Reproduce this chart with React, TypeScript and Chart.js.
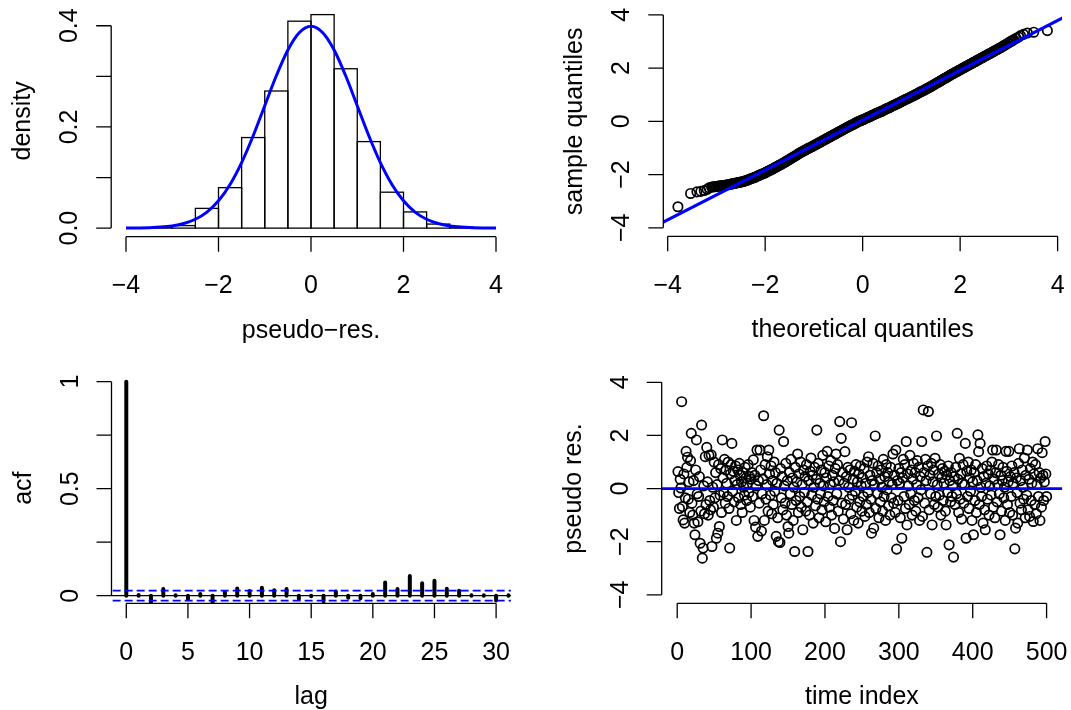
import React, { useEffect, useRef } from "react";
import { Chart, registerables } from "chart.js";

Chart.register(...registerables);

// ---------- Panel 1: histogram of pseudo-residuals ----------
const histBinCenters = [-3.25, -2.75, -2.25, -1.75, -1.25, -0.75, -0.25, 0.25, 0.75, 1.25, 1.75, 2.25, 2.75, 3.25];
const histDensity = [0.001, 0.005, 0.039, 0.080, 0.179, 0.271, 0.409, 0.422, 0.315, 0.171, 0.071, 0.032, 0.008, 0.002];
const normCurveX = [-4, -3.75, -3.5, -3.25, -3, -2.75, -2.5, -2.25, -2, -1.75, -1.5, -1.25, -1, -0.75, -0.5, -0.25, 0,
  0.25, 0.5, 0.75, 1, 1.25, 1.5, 1.75, 2, 2.25, 2.5, 2.75, 3, 3.25, 3.5, 3.75, 4];
const normCurveY = [0.0001, 0.0004, 0.0009, 0.002, 0.0044, 0.0091, 0.0175, 0.0317, 0.054, 0.0863, 0.1295, 0.1826, 0.242, 0.3011, 0.3521, 0.3867, 0.3989,
  0.3867, 0.3521, 0.3011, 0.242, 0.1826, 0.1295, 0.0863, 0.054, 0.0317, 0.0175, 0.0091, 0.0044, 0.002, 0.0009, 0.0004, 0.0001];
const histXTicks = [-4, -2, 0, 2, 4];
const histXLabels = ["\u22124", "\u22122", "0", "2", "4"];
const histYTicks = [0, 0.1, 0.2, 0.3, 0.4];
const histYLabels = ["0.0", "", "0.2", "", "0.4"];

// ---------- Panel 2: normal QQ plot ----------
const qqTheoretical = [-3.79, -3.53, -3.4, -3.32, -3.25, -3.19, -3.15,
  -3.1, -3.05, -3.0, -2.95, -2.9, -2.85, -2.8, -2.75, -2.7, -2.65, -2.6, -2.55, -2.5, -2.45, -2.4, -2.35, -2.3, -2.25, -2.2, -2.15, -2.1,
  -2.05, -2.0, -1.95, -1.9, -1.85, -1.8, -1.75, -1.7, -1.65, -1.6, -1.55, -1.5, -1.45, -1.4, -1.35, -1.3, -1.25, -1.2, -1.15, -1.1, -1.05,
  -1.0, -0.95, -0.9, -0.85, -0.8, -0.75, -0.7, -0.65, -0.6, -0.55, -0.5, -0.45, -0.4, -0.35, -0.3, -0.25, -0.2, -0.15, -0.1, -0.05,
  0.0, 0.05, 0.1, 0.15, 0.2, 0.25, 0.3, 0.35, 0.4, 0.45, 0.5, 0.55, 0.6, 0.65, 0.7, 0.75, 0.8, 0.85, 0.9, 0.95, 1.0,
  1.05, 1.1, 1.15, 1.2, 1.25, 1.3, 1.35, 1.4, 1.45, 1.5, 1.55, 1.6, 1.65, 1.7, 1.75, 1.8, 1.85, 1.9, 1.95, 2.0, 2.05,
  2.1, 2.15, 2.2, 2.25, 2.3, 2.35, 2.4, 2.45, 2.5, 2.55, 2.6, 2.65, 2.7, 2.75, 2.8, 2.85, 2.9, 2.95, 3.0, 3.05, 3.1,
  3.15, 3.2, 3.24, 3.3, 3.38, 3.51, 3.79];
const qqSample = [-3.21, -2.71, -2.65, -2.63, -2.6, -2.55, -2.5,
  -2.47, -2.46, -2.45, -2.43, -2.42, -2.41, -2.39, -2.38, -2.36, -2.34, -2.32, -2.3, -2.28, -2.26, -2.23, -2.2, -2.16, -2.13, -2.09, -2.05, -2.01,
  -1.97, -1.93, -1.88, -1.84, -1.79, -1.74, -1.69, -1.64, -1.59, -1.54, -1.48, -1.43, -1.37, -1.32, -1.26, -1.2, -1.15, -1.1, -1.05, -1.0, -0.96,
  -0.91, -0.86, -0.81, -0.76, -0.71, -0.66, -0.61, -0.56, -0.51, -0.46, -0.41, -0.36, -0.31, -0.26, -0.21, -0.16, -0.12, -0.07, -0.02, 0.02,
  0.06, 0.1, 0.14, 0.18, 0.23, 0.27, 0.31, 0.35, 0.39, 0.44, 0.48, 0.52, 0.57, 0.61, 0.66, 0.7, 0.75, 0.79, 0.84, 0.88, 0.93,
  0.97, 1.02, 1.07, 1.12, 1.16, 1.21, 1.26, 1.31, 1.36, 1.42, 1.47, 1.52, 1.58, 1.63, 1.68, 1.74, 1.79, 1.84, 1.89, 1.94, 1.99,
  2.04, 2.09, 2.14, 2.19, 2.24, 2.29, 2.34, 2.39, 2.44, 2.49, 2.54, 2.59, 2.64, 2.69, 2.74, 2.79, 2.85, 2.9, 2.96, 3.01, 3.07,
  3.12, 3.17, 3.22, 3.27, 3.32, 3.35, 3.41];
// further quantile pairs read between the ones above (the band is very dense)
const qqTheoreticalMid = [-3.075, -3.025, -2.975, -2.925, -2.875, -2.825, -2.775, -2.725, -2.675, -2.625, -2.575, -2.525, -2.475, -2.425,
  -2.375, -2.325, -2.275, -2.225, -2.175, -2.125, -2.075, -2.025, -1.975, -1.925, -1.875, -1.825, -1.775, -1.725, -1.675, -1.625,
  -1.575, -1.525, -1.475, -1.425, -1.375, -1.325, -1.275, -1.225, -1.175, -1.125, -1.075, -1.025, -0.975, -0.925, -0.875, -0.825,
  -0.775, -0.725, -0.675, -0.625, -0.575, -0.525, -0.475, -0.425, -0.375, -0.325, -0.275, -0.225, -0.175, -0.125, -0.075, -0.025,
  0.025, 0.075, 0.125, 0.175, 0.225, 0.275, 0.325, 0.375, 0.425, 0.475, 0.525, 0.575, 0.625, 0.675, 0.725, 0.775, 0.825, 0.875,
  0.925, 0.975, 1.025, 1.075, 1.125, 1.175, 1.225, 1.275, 1.325, 1.375, 1.425, 1.475, 1.525, 1.575, 1.625, 1.675, 1.725, 1.775,
  1.825, 1.875, 1.925, 1.975, 2.025, 2.075, 2.125, 2.175, 2.225, 2.275, 2.325, 2.375, 2.425, 2.475, 2.525, 2.575, 2.625, 2.675,
  2.725, 2.775, 2.825, 2.875, 2.925, 2.975, 3.025, 3.075];
const qqSampleMid = [-2.465, -2.455, -2.44, -2.425, -2.415, -2.4, -2.385, -2.37, -2.35, -2.33, -2.31, -2.29, -2.27, -2.245,
  -2.215, -2.18, -2.145, -2.11, -2.07, -2.03, -1.99, -1.95, -1.905, -1.86, -1.815, -1.765, -1.715, -1.665, -1.615, -1.565,
  -1.51, -1.455, -1.4, -1.345, -1.29, -1.23, -1.175, -1.125, -1.075, -1.025, -0.98, -0.935, -0.885, -0.835, -0.785, -0.735,
  -0.685, -0.635, -0.585, -0.535, -0.485, -0.435, -0.385, -0.335, -0.285, -0.235, -0.185, -0.14, -0.095, -0.045, 0.0, 0.04,
  0.08, 0.12, 0.16, 0.205, 0.25, 0.29, 0.33, 0.37, 0.415, 0.46, 0.5, 0.545, 0.59, 0.635, 0.68, 0.725, 0.77, 0.815,
  0.86, 0.905, 0.95, 0.995, 1.045, 1.095, 1.14, 1.185, 1.235, 1.285, 1.335, 1.39, 1.445, 1.495, 1.55, 1.605, 1.655, 1.71,
  1.765, 1.815, 1.865, 1.915, 1.965, 2.015, 2.065, 2.115, 2.165, 2.215, 2.265, 2.315, 2.365, 2.415, 2.465, 2.515, 2.565, 2.615,
  2.665, 2.715, 2.765, 2.82, 2.875, 2.93, 2.985, 3.04];
const qqLineX = [-4.5, 4.5];
const qqLineY = [-4.17, 4.26];
const qqTicks = [-4, -2, 0, 2, 4];
const qqLabels = ["\u22124", "\u22122", "0", "2", "4"];

// ---------- Panel 3: ACF ----------
const acfLags = [0, 1, 2, 3, 4, 5, 6, 7, 8, 9, 10, 11, 12, 13, 14, 15, 16, 17, 18, 19, 20, 21, 22, 23, 24, 25, 26, 27, 28, 29, 30, 31];
const acfValues = [1, 0.003, -0.036, 0.031, 0.002, -0.017, 0.008, -0.031, 0.017, 0.034, 0.022, 0.037, 0.025, 0.031, -0.014, -0.003,
  -0.026, 0.02, -0.009, -0.012, 0.008, 0.062, 0.031, 0.092, 0.058, 0.07, 0.033, 0.023, 0.002, 0.002, -0.023, 0.002];
const acfConfBound = 0.0234;
const acfXTicks = [0, 5, 10, 15, 20, 25, 30];
const acfXLabels = ["0", "5", "10", "15", "20", "25", "30"];
const acfYTicks = [0, 0.25, 0.5, 0.75, 1];
const acfYLabels = ["0", "", "0.5", "", "1"];

// ---------- Panel 4: pseudo residuals over time ----------
const timeResiduals = [
  0.64, -0.15, -0.75, 0.35, 0.02, 3.27, -0.68, -1.18, 0.55, -1.3, -0.35, 1.4, 0.8, 1.18, -0.4, 0.25, -0.9, 1.05, 2.08, -0.55, -1.0, 0.3, -1.3, -1.74, 0.7,
  1.83, -0.2, -1.25, -0.3, 0.45, -2.06, -0.85, 2.39, -2.62, -2.24, 0.1, -0.95, 1.2, -0.6, 1.55, 0.25, -1.0, 1.25, -0.45, -0.8, 1.27, -2.18, 0.05, -0.7, 1.0,
  -0.35, 0.6, -1.87, 0.15, -1.68, 0.9, -1.43, -0.25, 0.75, -0.9, 1.83, 0.4, -0.15, 1.1, -0.55, 0.7, 0.2, -0.3, 1.0, -0.75, -2.24, 0.55, 0.9, 1.7, -0.1,
  0.65, -0.5, 0.3, 0.85, -1.2, 0.15, 0.7, -0.35, 0.95, 0.5, -0.6, 0.25, -0.9, 0.6, 0.05, -0.25, 0.8, 0.4, -0.45, 0.2, 0.9, -0.15, 0.45, -0.7, 0.35,
  0.6, -0.3, 1.08, -1.2, 0.5, -1.45, 0.1, 1.45, -1.8, 0.3, -0.55, 1.45, 0.7, -1.6, -0.2, 0.35, 2.74, -1.2, 0.9, -0.4, 0.15, 1.2, -0.85, 1.45, 0.55,
  -0.25, 0.85, -0.95, 0.3, -0.6, 1.0, -0.1, 0.6, -1.8, 0.2, -1.1, -2.0, 2.2, -2.03, 0.75, -0.35, 0.45, -0.8, 1.77, 0.1, -0.55, 0.95, -1.0, 0.3, -1.43,
  -1.68, 0.6, -0.2, 1.1, -0.6, 0.4, -1.2, 0.05, -2.37, 0.8, -0.45, 0.25, 1.3, -0.9, 0.55, -0.3, 1.0, -0.7, 0.15, -1.55, 0.7, -0.15, 0.45, -0.85, 0.9,
  -0.5, -2.37, 0.3, -1.0, 0.65, 1.15, -0.25, 0.5, -1.3, 0.05, 0.8, -0.65, 0.35, 2.2, -0.4, 0.95, -1.1, 0.2, -0.2, 0.7, -0.8, 1.25, 0.1, -0.5, 0.6,
  -1.25, 0.4, 1.4, -0.3, 0.85, -0.7, 0.15, 1.05, -1.0, 0.5, -0.45, 0.25, -1.5, 0.75, 1.3, -0.2, 0.9, -0.85, 0.3, 2.52, -2.0, 1.89, -0.55, 0.6, -1.15,
  0.2, 1.39, -0.6, 0.45, -1.55, 0.8, 0.05, -0.4, 0.7, -0.95, 2.48, -0.25, 0.35, -1.2, 0.65, -0.1, 0.9, -0.7, 0.25, -1.3, 0.55, -0.5, 0.85, 0.1, -0.85,
  0.4, -0.3, 0.75, -1.05, 0.2, -0.6, 1.0, -0.15, 1.2, -0.9, 0.5, -0.4, -1.68, 0.3, 0.95, -1.49, 0.15, 1.98, -0.75, 0.6, -0.2, 0.85, -1.1, 0.35, -0.5,
  0.7, 0.05, -0.85, 1.1, -0.3, 0.45, -1.2, 0.9, -0.05, 0.6, -0.65, 0.25, -1.0, 0.8, -0.35, 0.15, 1.3, -0.55, 0.5, -0.9, 1.45, -2.28, 0.3, -0.45, 0.75,
  0.2, -1.1, 0.6, -1.87, 0.4, 1.1, -0.3, 0.9, -0.75, 1.77, -1.37, 0.55, 0.1, -0.6, 1.25, -0.2, 0.7, -1.0, 0.35, 0.95, -0.45, 0.6, -0.85, 0.15, 1.05,
  -0.35, 0.8, -1.2, 0.45, -0.05, 1.77, -1.05, 2.96, 0.6, -0.55, 1.1, 0.3, -2.4, 0.85, 2.9, -0.8, 0.5, -0.2, 0.95, -1.37, 0.25, 0.7, -0.6, 1.14, -0.3,
  1.98, 0.15, -0.7, 0.55, -0.25, 0.9, -1.0, 0.4, 0.75, -0.45, 0.2, 0.65, -0.85, -1.37, 0.5, -0.15, 0.85, -2.12, 0.3, -0.5, 0.6, -0.3, 0.1, -2.58, 0.45,
  -0.6, 0.8, -0.2, 2.08, 0.35, -0.9, 1.14, -0.4, 0.55, -1.15, 0.2, 0.9, -0.55, 0.15, 1.7, -1.87, 0.65, -0.3, 1.0, -0.75, 0.4, -0.1, 0.7, -1.2, 0.25,
  -1.74, 0.6, -0.45, 0.9, -0.9, 0.3, 2.02, 1.39, -0.6, 1.7, 0.05, -0.3, 0.75, -1.3, 0.45, -0.8, -1.55, 0.2, 0.85, -0.4, 0.55, -1.0, 0.1, 0.7, -0.25,
  1.0, 1.45, -0.7, 0.35, -1.1, 0.6, 1.45, -0.5, 0.15, 0.9, -0.2, -1.74, 0.5, -0.85, 0.3, 0.8, -0.35, 0.05, -1.2, 1.4, 0.65, -0.6, 0.25, 1.4, -0.9,
  0.45, -0.3, 0.85, -1.0, 0.2, 0.6, -2.27, -1.49, 0.4, -0.15, -1.3, 0.95, 1.5, -0.55, 0.3, -0.8, 0.7, 0.05, -0.4, 1.15, -1.1, 0.5, -0.25, 1.45, -0.8,
  0.35, -1.05, 0.75, -0.45, 0.2, 1.0, -1.24, 0.55, -0.6, 0.9, -0.95, 0.15, 1.5, -0.3, 0.6, -1.2, 0.4, -0.7, 1.35, 0.5, -0.45, 0.25, 1.77, 0.55, -0.3,
];
const timeXTicks = [0, 100, 200, 300, 400, 500];
const timeXLabels = ["0", "100", "200", "300", "400", "500"];
const timeYTicks = [-4, -2, 0, 2, 4];
const timeYLabels = ["\u22124", "\u22122", "0", "2", "4"];

// ---------- styling ----------
const FONT = "25px 'Liberation Sans', Arial, Helvetica, sans-serif";
const TICK_LEN = 15;
const AXIS_LW = 1.3;
const BLUE = "#0000ff";

type AxisSpec = { ticks: number[]; labels: string[]; title: string };

function makeAxesPlugin(xSpec: AxisSpec, ySpec: AxisSpec) {
  return {
    id: "rAxes",
    afterDraw(chart: any) {
      const { ctx, chartArea, scales } = chart;
      ctx.save();
      ctx.strokeStyle = "#000";
      ctx.fillStyle = "#000";
      ctx.lineWidth = AXIS_LW;
      ctx.font = FONT;
      ctx.textAlign = "center";
      ctx.textBaseline = "alphabetic";
      // x axis (side 1)
      const yb = chartArea.bottom;
      const px = xSpec.ticks.map((v) => scales.x.getPixelForValue(v));
      ctx.beginPath();
      ctx.moveTo(px[0], yb);
      ctx.lineTo(px[px.length - 1], yb);
      for (const p of px) {
        ctx.moveTo(p, yb);
        ctx.lineTo(p, yb + TICK_LEN);
      }
      ctx.stroke();
      xSpec.labels.forEach((l, i) => {
        if (l) ctx.fillText(l, px[i], yb + 56.5);
      });
      ctx.fillText(xSpec.title, (chartArea.left + chartArea.right) / 2, yb + 101);
      // y axis (side 2)
      const xl = chartArea.left;
      const py = ySpec.ticks.map((v) => scales.y.getPixelForValue(v));
      ctx.beginPath();
      ctx.moveTo(xl, py[0]);
      ctx.lineTo(xl, py[py.length - 1]);
      for (const p of py) {
        ctx.moveTo(xl, p);
        ctx.lineTo(xl - TICK_LEN, p);
      }
      ctx.stroke();
      ySpec.labels.forEach((l, i) => {
        if (!l) return;
        ctx.save();
        ctx.translate(xl - 34, py[i]);
        ctx.rotate(-Math.PI / 2);
        ctx.fillText(l, 0, 0);
        ctx.restore();
      });
      ctx.save();
      ctx.translate(xl - 81, (chartArea.top + chartArea.bottom) / 2);
      ctx.rotate(-Math.PI / 2);
      ctx.fillText(ySpec.title, 0, 0);
      ctx.restore();
      ctx.restore();
    },
  };
}

const histOutlinePlugin = {
  id: "histOutline",
  afterDatasetDraw(chart: any, args: any) {
    if (args.meta.type !== "bar") return;
    const ctx = chart.ctx;
    ctx.save();
    ctx.strokeStyle = "#000";
    ctx.lineWidth = AXIS_LW;
    for (const el of args.meta.data) {
      const { x, y, base, width } = el.getProps(["x", "y", "base", "width"], true);
      ctx.strokeRect(x - width / 2, y, width, base - y);
    }
    ctx.restore();
  },
};

function baseOptions(pad: any, xMin: number, xMax: number, yMin: number, yMax: number) {
  return {
    responsive: false,
    animation: false,
    events: [],
    layout: { padding: pad, autoPadding: false },
    plugins: { legend: { display: false }, tooltip: { enabled: false }, title: { display: false } },
    scales: {
      x: { type: "linear", display: false, min: xMin, max: xMax, offset: false },
      y: { type: "linear", display: false, min: yMin, max: yMax },
    },
  };
}

const pointStyle = {
  pointStyle: "circle",
  pointRadius: 4.7,
  pointBorderWidth: 1.7,
  pointBorderColor: "#000",
  pointBackgroundColor: "rgba(0,0,0,0)",
};

function histConfig(): any {
  return {
    type: "bar",
    data: {
      datasets: [
        {
          type: "line",
          data: normCurveX.map((x, i) => ({ x, y: normCurveY[i] })),
          borderColor: BLUE,
          borderWidth: 3,
          pointRadius: 0,
          cubicInterpolationMode: "monotone",
          order: 0,
          clip: 0,
        },
        {
          type: "bar",
          data: histBinCenters.map((x, i) => ({ x, y: histDensity[i] })),
          backgroundColor: "rgba(0,0,0,0)",
          borderWidth: 0,
          categoryPercentage: 1,
          barPercentage: 1,
          order: 1,
        },
      ],
    },
    options: baseOptions({ left: 111.2, top: 5, right: 24.2, bottom: 118.3 }, -4.32, 4.32, -0.01696, 0.441),
    plugins: [
      histOutlinePlugin,
      makeAxesPlugin(
        { ticks: histXTicks, labels: histXLabels, title: "pseudo\u2212res." },
        { ticks: histYTicks, labels: histYLabels, title: "density" }
      ),
    ],
  };
}

function qqConfig(): any {
  return {
    type: "scatter",
    data: {
      datasets: [
        {
          type: "line",
          data: qqLineX.map((x, i) => ({ x, y: qqLineY[i] })),
          borderColor: BLUE,
          borderWidth: 3,
          pointRadius: 0,
          order: 0,
          clip: 0,
        },
        {
          type: "scatter",
          data: qqTheoretical.map((x, i) => ({ x, y: qqSample[i] })),
          ...pointStyle,
          order: 1,
        },
        {
          type: "scatter",
          data: qqTheoreticalMid.map((x, i) => ({ x, y: qqSampleMid[i] })),
          ...pointStyle,
          order: 2,
        },
      ],
    },
    options: baseOptions({ left: 128.3, top: 6.4, right: 9, bottom: 118.7 }, -4.09, 4.09, -4.32, 4.32),
    plugins: [
      makeAxesPlugin(
        { ticks: qqTicks, labels: qqLabels, title: "theoretical quantiles" },
        { ticks: qqTicks, labels: qqLabels, title: "sample quantiles" }
      ),
    ],
  };
}

function acfConfig(): any {
  const stems = acfLags.flatMap((lag, i) => [
    { x: lag, y: 0 },
    { x: lag, y: acfValues[i] },
    { x: lag, y: null },
  ]);
  return {
    type: "line",
    data: {
      datasets: [
        {
          data: [{ x: -5, y: acfConfBound }, { x: 40, y: acfConfBound }],
          borderColor: BLUE,
          borderWidth: 1.8,
          borderDash: [8, 4],
          pointRadius: 0,
          clip: 0,
          order: 0,
        },
        {
          data: [{ x: -5, y: -acfConfBound }, { x: 40, y: -acfConfBound }],
          borderColor: BLUE,
          borderWidth: 1.8,
          borderDash: [8, 4],
          pointRadius: 0,
          clip: 0,
          order: 0,
        },
        {
          data: [{ x: -5, y: 0 }, { x: 40, y: 0 }],
          borderColor: "#000",
          borderWidth: AXIS_LW,
          pointRadius: 0,
          clip: 0,
          order: 1,
        },
        {
          data: stems,
          borderColor: "#000",
          borderWidth: 4,
          borderCapStyle: "round",
          pointRadius: 0,
          spanGaps: false,
          clip: 0,
          order: 2,
        },
      ],
    },
    options: baseOptions({ left: 111.5, top: 18.1, right: 24.1, bottom: 106.7 }, -1.2, 31.2, -0.0355, 1.04),
    plugins: [
      makeAxesPlugin(
        { ticks: acfXTicks, labels: acfXLabels, title: "lag" },
        { ticks: acfYTicks, labels: acfYLabels, title: "acf" }
      ),
    ],
  };
}

function timeConfig(): any {
  return {
    type: "scatter",
    data: {
      datasets: [
        {
          type: "line",
          data: [{ x: -50, y: 0 }, { x: 560, y: 0 }],
          borderColor: BLUE,
          borderWidth: 2.8,
          pointRadius: 0,
          clip: 0,
          order: 0,
        },
        {
          type: "scatter",
          data: timeResiduals.map((y, i) => ({ x: i + 1, y })),
          ...pointStyle,
          order: 1,
        },
      ],
    },
    options: baseOptions({ left: 126.7, top: 18.8, right: 8.9, bottom: 106.7 }, -21, 521, -4.32, 4.32),
    plugins: [
      makeAxesPlugin(
        { ticks: timeXTicks, labels: timeXLabels, title: "time index" },
        { ticks: timeYTicks, labels: timeYLabels, title: "pseudo res." }
      ),
    ],
  };
}

function Panel(props: { x: number; y: number; w: number; h: number; make: () => any }) {
  const ref = useRef<HTMLCanvasElement>(null);
  useEffect(() => {
    const chart = new Chart(ref.current as HTMLCanvasElement, props.make());
    return () => chart.destroy();
  }, []);
  return (
    <canvas
      ref={ref}
      width={props.w}
      height={props.h}
      style={{ position: "absolute", left: props.x, top: props.y, width: props.w, height: props.h }}
    />
  );
}

export default function App() {
  return (
    <div style={{ position: "absolute", left: 0, top: 0, width: 1071, height: 710, background: "#fff" }}>
      <Panel x={0} y={0} w={535} h={355} make={histConfig} />
      <Panel x={535} y={0} w={536} h={355} make={qqConfig} />
      <Panel x={0} y={355} w={535} h={355} make={acfConfig} />
      <Panel x={535} y={355} w={536} h={355} make={timeConfig} />
    </div>
  );
}
